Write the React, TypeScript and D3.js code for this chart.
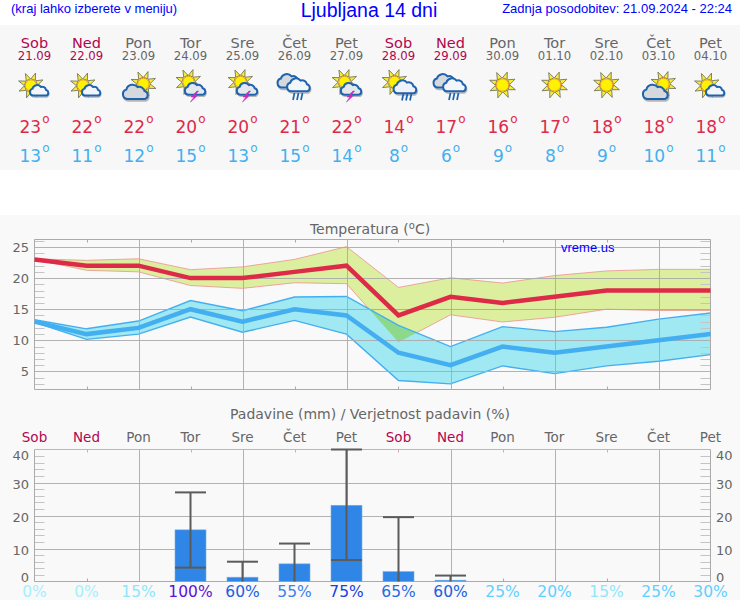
import React from "react";
import * as d3 from "d3";

const days = ["Sob","Ned","Pon","Tor","Sre","Čet","Pet","Sob","Ned","Pon","Tor","Sre","Čet","Pet"];
const dates = ["21.09","22.09","23.09","24.09","25.09","26.09","27.09","28.09","29.09","30.09","01.10","02.10","03.10","04.10"];
const icons = ["sc","sc","cs","ts","ts","rain","ts","sr","rain","s","s","s","cs","sc"];
const highs = [23,22,22,20,20,21,22,14,17,16,17,18,18,18];
const lows = [13,11,12,15,13,15,14,8,6,9,8,9,10,11];
const highUpper = [23.1,22.85,23.1,21.35,21.8,23.0,25.05,18.5,20.05,19.2,20.4,21.15,21.4,21.4];
const highLower = [23,21.25,21.0,18.8,18.35,19.25,19.1,9.7,14.1,12.95,13.7,15,14.8,14.8];
const lowUpper = [13.3,11.85,13.1,16.4,14.75,16.95,17.05,12.4,9,12.2,11.4,12.1,13.4,14.4];
const lowLower = [12.9,10.15,11,13.75,11.3,13.2,11,3.55,3,5.9,4.65,5.9,6.65,7.7];
const rain = [0,0,0,15.65,1.3,5.35,23.1,3.0,0.4,0,0,0,0,0];
const rainHigh = [0,0,0,27,6,11.5,40,19.5,1.8,0,0,0,0,0];
const rainLow = [0,0,0,4.2,0,0,6.5,0,0,0,0,0,0,0];
const chance = [0,0,15,100,60,55,75,65,60,25,20,15,25,30];
const tempTicks = [5,10,15,20,25];
const rainTicks = [0,10,20,30,40];

const SANS = "'DejaVu Sans', sans-serif";
const ARIAL = "'Liberation Sans', Arial, sans-serif";
const GREY = "#666";
const GRID = "#aaaaaa";
const x = d3.scaleLinear().domain([0, 13]).range([34.5, 710.5]);
const yT = d3.scaleLinear().domain([2.1, 26.2]).range([389.5, 239.5]);
const yR = d3.scaleLinear().domain([0, 40]).range([581.5, 449.5]);
const chanceColor = d3.scaleOrdinal<number, string>()
  .domain([0,15,20,25,30,55,60,65,75,100])
  .range(["#a6effc","#8fe6fb","#5fd0ff","#5fd0ff","#5fd0ff","#3b82ec","#2160e0","#2a6ae0","#1c3fe0","#6010d8"]);
const weekend = (d: string) => d === "Sob" || d === "Ned";
const dayColor = (d: string) => (weekend(d) ? "#b0064f" : GREY);

const idx = d3.range(14);
const lineOf = (vals: number[]) => d3.line<number>().x(i => x(i)).y(i => yT(vals[i]))(idx) as string;
const areaOf = (a: number[], b: number[]) =>
  d3.area<number>().x(i => x(i)).y0(i => yT(b[i])).y1(i => yT(a[i]))(idx) as string;

function Sun({ cx, cy, r = 5.7 }: { cx: number; cy: number; r?: number }) {
  return (
    <g>
      {d3.range(8).map(k => {
        const a = (k * Math.PI) / 4 + 0.35;
        const w = 0.36;
        const R = r + 7.5;
        const p = [
          [cx + Math.cos(a - w) * (r + 1), cy + Math.sin(a - w) * (r + 1)],
          [cx + Math.cos(a) * R, cy + Math.sin(a) * R],
          [cx + Math.cos(a + w) * (r + 1), cy + Math.sin(a + w) * (r + 1)],
        ];
        return <polygon key={k} points={p.map(q => q.join(",")).join(" ")} fill="#f6ef3a" stroke="#77745a" strokeWidth={0.9} />;
      })}
      <circle cx={cx} cy={cy} r={r} fill="#fff200" stroke="#ee9a1a" strokeWidth={1} />
    </g>
  );
}

function Cloud({ cx, cy, s = 1, fill = "#f2f6fb" }: { cx: number; cy: number; s?: number; fill?: string }) {
  const d = "M-8 6 a4.2 4.2 0 0 1 -0.8 -8.2 a5.6 5.6 0 0 1 9.8 -2 a4.6 4.6 0 0 1 6 3.4 a3.6 3.6 0 0 1 0.6 6.8 z";
  return (
    <g transform={`translate(${cx},${cy}) scale(${s})`}>
      <path d={d} transform="translate(0.8,1.6)" fill="none" stroke="#b5b5b5" strokeWidth={1.6} />
      <path d={d} fill={fill} stroke="#1f62ad" strokeWidth={2 / s} />
    </g>
  );
}

function Bolt({ cx, cy }: { cx: number; cy: number }) {
  return (
    <path
      d={`M${cx + 3} ${cy - 5.5} L${cx - 3} ${cy + 0.5} L${cx} ${cy + 0.5} L${cx - 3.5} ${cy + 5.5} L${cx + 3.5} ${cy - 1} L${cx + 0.8} ${cy - 1} L${cx + 4.5} ${cy - 5.5} z`}
      fill="#c92ac0"
      stroke="#c92ac0"
      strokeWidth={0.6}
    />
  );
}

function Drops({ cx, cy }: { cx: number; cy: number }) {
  return (
    <g stroke="#1f62ad" strokeWidth={1.7}>
      {[-4, 0, 4].map(o => <line key={o} x1={cx + o + 1} x2={cx + o - 0.5} y1={cy - 3.5} y2={cy + 3.5} />)}
    </g>
  );
}

function Icon({ kind, c }: { kind: string; c: number }) {
  if (kind === "s") return <Sun cx={c} cy={85} r={6.2} />;
  if (kind === "sc") return <g><Sun cx={c - 3.5} cy={85.5} /><Cloud cx={c + 5.5} cy={90.5} s={0.85} /></g>;
  if (kind === "cs") return <g><Sun cx={c + 5} cy={84} /><Cloud cx={c - 2} cy={92} s={1.15} fill="#d5d9de" /></g>;
  if (kind === "ts") return <g><Sun cx={c - 2} cy={82} /><Cloud cx={c + 5.5} cy={89} s={0.95} fill="#e3e8ee" /><Bolt cx={c + 3.5} cy={96.5} /></g>;
  if (kind === "sr") return <g><Sun cx={c - 4} cy={82} /><Cloud cx={c + 7.5} cy={87} s={1.05} fill="#eef3f9" /><Drops cx={c + 8} cy={97} /></g>;
  return (
    <g>
      <Cloud cx={c - 4} cy={81} s={1.1} fill="#d5d9de" />
      <Cloud cx={c + 5} cy={85} s={1.05} fill="#f2f6fb" />
      <Drops cx={c + 3} cy={96.5} />
    </g>
  );
}

function Deg({ v, c, y, fill }: { v: number; c: number; y: number; fill: string }) {
  return (
    <text x={c} y={y} textAnchor="middle" fontSize={17} fontFamily={SANS} fill={fill}>
      {v}
      <tspan fontSize={12} dy={-10} dx={1}>o</tspan>
    </text>
  );
}

function Grid({ y, ticks, minor, frame }: { y: d3.ScaleLinear<number, number>; ticks: number[]; minor: number[]; frame: string }) {
  const [y0, y1] = y.range();
  return (
    <g>
      {ticks.map(t => <line key={t} x1={x(0)} x2={x(13)} y1={Math.round(y(t)) + 0.5} y2={Math.round(y(t)) + 0.5} stroke={GRID} strokeOpacity={0.9} />)}
      {minor.map(t => (
        <g key={t} stroke="#c4c4c4">
          <line x1={x(0)} x2={x(0) + 10} y1={Math.round(y(t)) + 0.5} y2={Math.round(y(t)) + 0.5} />
          <line x1={x(13) - 10} x2={x(13)} y1={Math.round(y(t)) + 0.5} y2={Math.round(y(t)) + 0.5} />
        </g>
      ))}
      {idx.slice(1, 13).map(i => i % 2 === 0
        ? <line key={i} x1={Math.round(x(i)) + 0.5} x2={Math.round(x(i)) + 0.5} y1={y1} y2={y0} stroke={GRID} strokeOpacity={0.9} />
        : <g key={i}>
            <line x1={Math.round(x(i)) + 0.5} x2={Math.round(x(i)) + 0.5} y1={y1} y2={y1 + 3} stroke={frame} />
            <line x1={Math.round(x(i)) + 0.5} x2={Math.round(x(i)) + 0.5} y1={y0 - 3} y2={y0} stroke={GRID} />
          </g>)}
      <line x1={x(0)} x2={x(0)} y1={y1} y2={y0} stroke={GRID} />
      <line x1={x(13)} x2={x(13)} y1={y1} y2={y0} stroke={GRID} />
      <line x1={x(0)} x2={x(13)} y1={y0} y2={y0} stroke={GRID} />
      <line x1={x(0)} x2={x(13)} y1={y1} y2={y1} stroke={frame} />
    </g>
  );
}

export default function App() {
  const tempMinor = d3.range(3, 27).filter(v => v % 5 !== 0 && v <= 26);
  const rainMinor = d3.range(2, 41, 2).filter(v => v % 10 !== 0);
  return (
    <svg width={740} height={600} viewBox="0 0 740 600" style={{ position: "absolute", left: 0, top: 0, display: "block", background: "#fff" }}>
      <defs>
        <clipPath id="redBand"><path d={areaOf(highUpper, highLower)} /></clipPath>
      </defs>
      <rect x={0} y={25} width={740} height={145} fill="#f7f7f7" />
      <rect x={0} y={215} width={740} height={385} fill="#f9f9f9" />

      <text x={11} y={13} fontFamily={ARIAL} fontSize={13} fill="#0000ff">(kraj lahko izberete v meniju)</text>
      <text x={369} y={16.5} textAnchor="middle" fontFamily={ARIAL} fontSize={19.5} fill="#0000ff">Ljubljana 14 dni</text>
      <text x={732} y={13} textAnchor="end" fontFamily={ARIAL} fontSize={13} fill="#0000ff">Zadnja posodobitev: 21.09.2024 - 22:24</text>

      {days.map((d, i) => (
        <g key={i}>
          <text x={x(i)} y={48} textAnchor="middle" fontFamily={SANS} fontSize={14.5} fill={dayColor(d)}>{d}</text>
          <text x={x(i)} y={60} textAnchor="middle" fontFamily={SANS} fontSize={11.7} fill={dayColor(d)}>{dates[i]}</text>
          <Icon kind={icons[i]} c={x(i)} />
          <Deg v={highs[i]} c={x(i)} y={132.5} fill="#dd2a48" />
          <Deg v={lows[i]} c={x(i)} y={162} fill="#44aff0" />
        </g>
      ))}

      <text x={370} y={234} textAnchor="middle" fontFamily={SANS} fontSize={14} fill={GREY}>
        Temperatura (<tspan fontSize={10} dy={-5.5}>o</tspan><tspan dy={5.5}>C)</tspan>
      </text>
      <path d={areaOf(highUpper, highLower)} fill="#dcef9e" stroke="#ee8f8f" strokeWidth={0.8} />
      <path d={areaOf(lowUpper, lowLower)} fill="#a0e8f2" />
      <path d={areaOf(lowUpper, lowLower)} fill="#8cd98c" clipPath="url(#redBand)" />
      <path d={lineOf(lowUpper)} fill="none" stroke="#44aff0" strokeWidth={1.4} />
      <path d={lineOf(lowLower)} fill="none" stroke="#44aff0" strokeWidth={1.4} />
      <Grid y={yT} ticks={tempTicks} minor={tempMinor} frame={GRID} />
      <path d={lineOf(lows)} fill="none" stroke="#44aff0" strokeWidth={4.5} />
      <path d={lineOf(highs)} fill="none" stroke="#dd2a48" strokeWidth={4.5} />
      <text x={561} y={252} fontFamily={ARIAL} fontSize={13} fill="#0000ff">vreme.us</text>
      {tempTicks.map(t => (
        <text key={t} x={29} y={yT(t) + 5} textAnchor="end" fontFamily={SANS} fontSize={13} fill={GREY}>{t}</text>
      ))}

      <text x={370} y={419} textAnchor="middle" fontFamily={SANS} fontSize={14} fill={GREY}>Padavine (mm) / Verjetnost padavin (%)</text>
      {days.map((d, i) => (
        <text key={i} x={x(i)} y={442} textAnchor="middle" fontFamily={SANS} fontSize={13.5} fill={dayColor(d)}>{d}</text>
      ))}
      <Grid y={yR} ticks={rainTicks.slice(1, 4)} minor={rainMinor} frame="#e3a3bb" />
      {rain.map((v, i) => v > 0 && (
        <rect key={i} x={x(i) - 15.5} width={31} y={yR(v)} height={yR(0) - yR(v)} fill="#2f86e6" stroke="#77aee8" strokeWidth={0.6} />
      ))}
      {rain.map((v, i) => v > 0 && (
        <g key={i} stroke="#5b5b5b" strokeWidth={2}>
          <line x1={x(i)} x2={x(i)} y1={yR(rainHigh[i])} y2={yR(rainLow[i])} />
          <line x1={x(i) - 15.5} x2={x(i) + 15.5} y1={yR(rainHigh[i])} y2={yR(rainHigh[i])} />
          {rainLow[i] > 0 && <line x1={x(i) - 15.5} x2={x(i) + 15.5} y1={yR(rainLow[i])} y2={yR(rainLow[i])} />}
        </g>
      ))}
      {rainTicks.map(t => {
        const ly = Math.max(460, Math.min(582, yR(t) + 6));
        return (
          <g key={t}>
            <text x={29} y={ly} textAnchor="end" fontFamily={SANS} fontSize={13} fill={GREY}>{t}</text>
            <text x={716} y={ly} fontFamily={SANS} fontSize={13} fill={GREY}>{t}</text>
          </g>
        );
      })}
      {chance.map((p, i) => (
        <text key={i} x={x(i)} y={596.5} textAnchor="middle" fontFamily={SANS} fontSize={15.5} fill={chanceColor(p)}>{p}%</text>
      ))}
    </svg>
  );
}
